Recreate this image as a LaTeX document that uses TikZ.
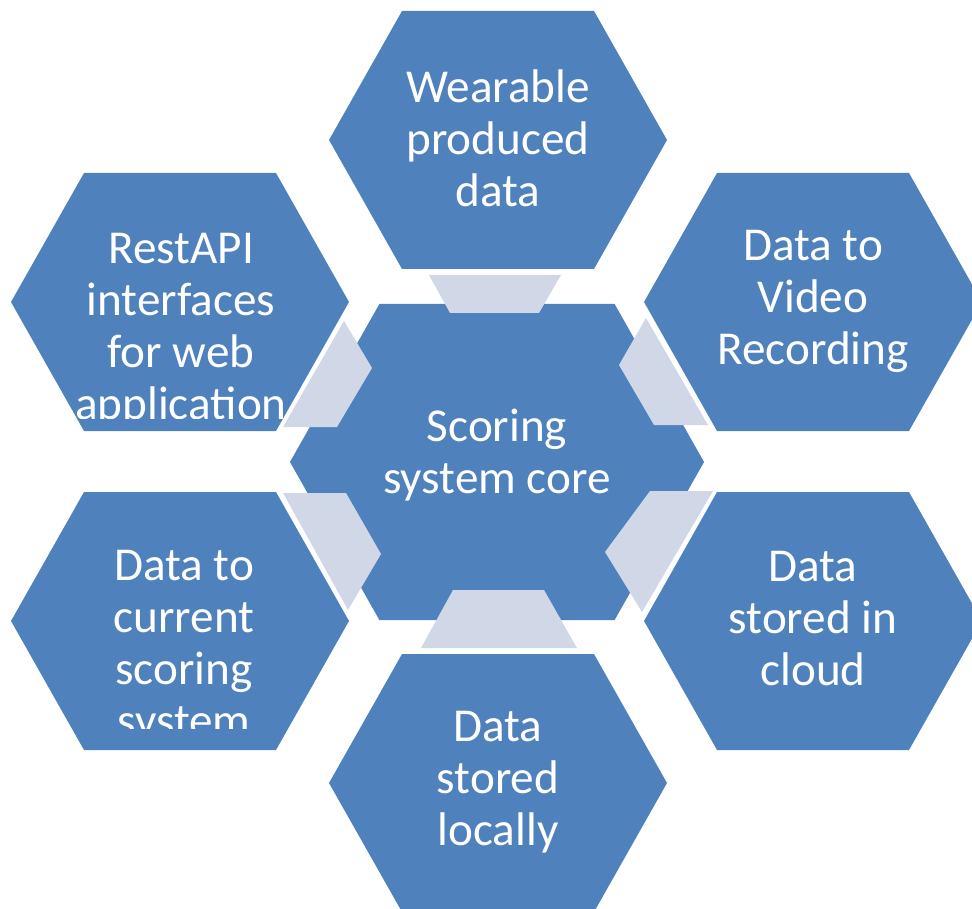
\documentclass[tikz,border=0pt]{standalone}
\usepackage{fontspec}
\setmainfont{Carlito}
\usepackage{tikz}
\usetikzlibrary{positioning}
\definecolor{hexblau}{HTML}{4F81BD}
\definecolor{trapgrau}{HTML}{D0D8E8}

\begin{document}
\begin{tikzpicture}[x=0.5pt,y=-0.5pt,
  hextext/.style={text=white,align=center,inner sep=0pt,font=\fontsize{23.6}{26}\selectfont}]
%Masse in Pixeln, y zeigt nach unten
  \pgfmathsetmacro{\rA}{169}  %halbe Breite
  \pgfmathsetmacro{\rB}{96}   %halbe Kante oben/unten
  \pgfmathsetmacro{\hA}{129}  %halbe Hoehe
  \pgfmathsetmacro{\s}{1.225} %Faktor fuer das Mittelstueck
\useasboundingbox (0,0) rectangle (972,908);
\clip (0,0) rectangle (972,908);
%Mittleres Sechseck
\fill[hexblau] (497-\s*\rA,462) -- (497-\s*\rB,462-\s*\hA) -- (497+\s*\rB,462-\s*\hA) -- (497+\s*\rA,462) -- (497+\s*\rB,462+\s*\hA) -- (497-\s*\rB,462+\s*\hA) -- cycle;
%Trapeze zwischen Mitte und aussen
\fill[trapgrau] (429,275) -- (561,275) -- (539,313) -- (450,313) -- cycle;
\fill[trapgrau] (453,590) -- (544,590) -- (577,648) -- (421,648) -- cycle;
\fill[trapgrau] (344,321) -- (372,368) -- (337,427) -- (283,427) -- cycle;
\fill[trapgrau] (646,318) -- (708,425) -- (654,425) -- (619,365) -- cycle;
\fill[trapgrau] (283,493) -- (346,493) -- (381,554) -- (348,610) -- cycle;
\fill[trapgrau] (713,491) -- (650,491) -- (605,552) -- (642,612) -- cycle;
%Aeussere Sechsecke
\foreach \x/\y in {498/140,180/302,813/302,180/621,813/621,498/783}{
\fill[hexblau] (\x-\rA,\y) -- (\x-\rB,\y-\hA) -- (\x+\rB,\y-\hA) -- (\x+\rA,\y) -- (\x+\rB,\y+\hA) -- (\x-\rB,\y+\hA) -- cycle;
}
\node[hextext] (kern) at (497,455) {Scoring\\system core};
\node[hextext] (wearable) at (498,138) {Wearable\\produced\\data};
\node[hextext] (video) at (813,301) {Data to\\Video\\Recording};
\node[hextext] (cloud) at (813,619) {Data\\stored in\\cloud};
\node[hextext] (lokal) at (498,782) {Data\\stored\\locally};
%Text laeuft ueber, wird abgeschnitten
\begin{scope}
\clip (0,0) rectangle (972,418);
\node[hextext] (rest) at (181,330) {RestAPI\\interfaces\\for web\\application};
\end{scope}
\begin{scope}
\clip (0,480) rectangle (972,728);
\node[hextext] (aktuell) at (184,647) {Data to\\current\\scoring\\system};
\end{scope}
\end{tikzpicture}
\end{document}
